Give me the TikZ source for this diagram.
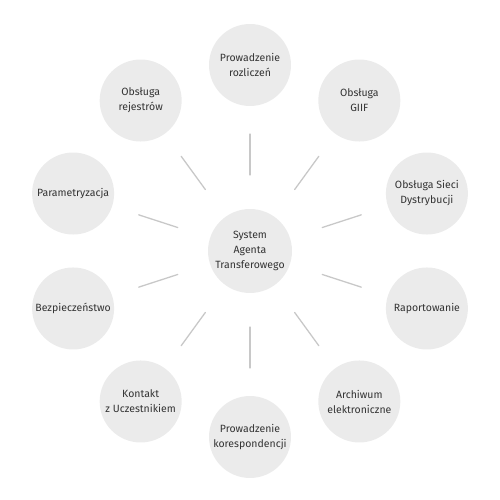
\documentclass[tikz,border=0pt]{standalone}
\usepackage{fontspec}
\setmainfont{Fira Sans}
\usepackage{tikz}
\definecolor{bubblefill}{HTML}{EBEBEB}
\definecolor{spokegray}{HTML}{C8C8C8}
\definecolor{labelgray}{HTML}{333333}
\tikzset{
  bubble/.style={circle,fill=bubblefill,inner sep=0pt,outer sep=0pt,minimum size=82pt,
    align=center,text=labelgray,font=\fontsize{10.5}{15}\selectfont},
  hub/.style={bubble,minimum size=84pt},
  spoke/.style={draw=spokegray,line width=1.3pt,shorten <=34pt,shorten >=28pt}
}
\begin{document}
\begin{tikzpicture}[line cap=round,line join=round,x=1.0pt,y=1.0pt]
\useasboundingbox (0,0) rectangle (500,500);
\node[hub] (hub) at (250,249) {System\\Agenta\\Transferowego};
\foreach \ang/\txt [count=\i] in {90/{Prowadzenie\\rozliczeń},54/{Obsługa\\GIIF},18/{Obsługa Sieci\\Dystrybucji},-18/{Raportowanie},-54/{Archiwum\\elektroniczne},-90/{Prowadzenie\\korespondencji},-126/{Kontakt\\z Uczestnikiem},-162/{Bezpieczeństwo},162/{Parametryzacja},126/{Obsługa\\rejestrów}}
{
  \node[bubble] (area\i) at ([shift={(\ang:186)}]hub.center) {\txt};
  \draw[spoke] (hub) -- (area\i);
}
\end{tikzpicture}
\end{document}
